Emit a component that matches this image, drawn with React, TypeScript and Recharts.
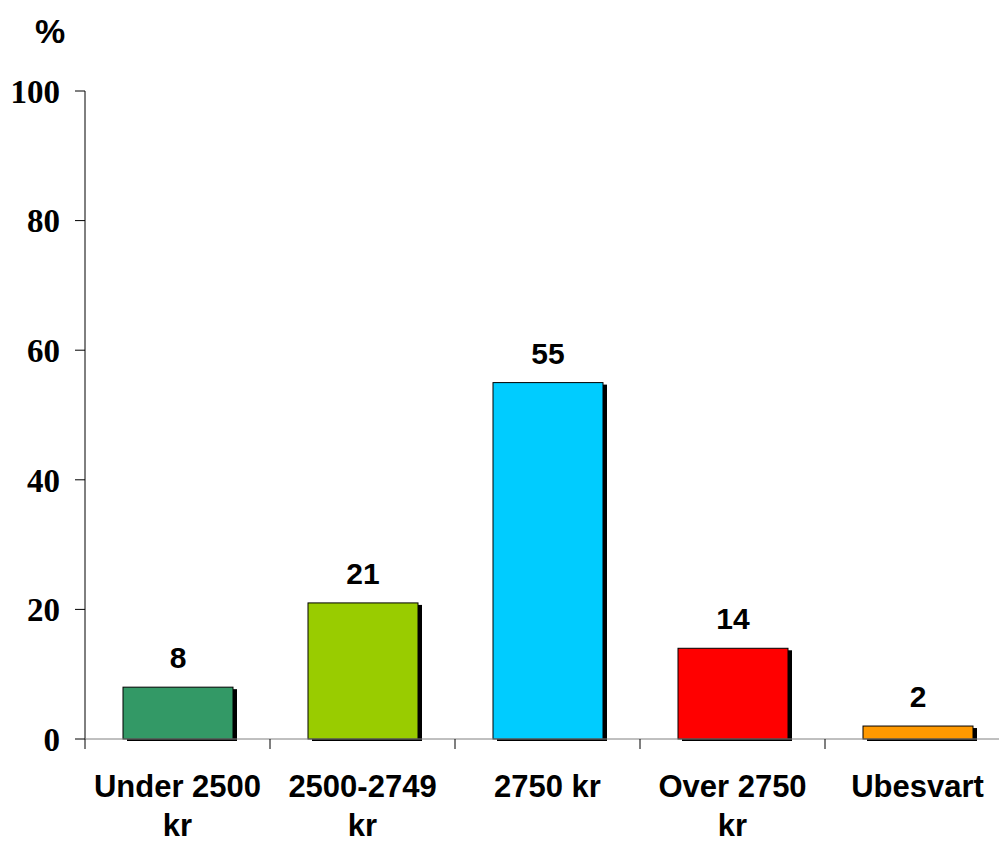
import { BarChart, Bar, XAxis, YAxis, Cell, LabelList } from "recharts";

const categories = ["Under 2500 kr", "2500-2749 kr", "2750 kr", "Over 2750 kr", "Ubesvart"];
const labelLines = [["Under 2500", "kr"], ["2500-2749", "kr"], ["2750 kr"], ["Over 2750", "kr"], ["Ubesvart"]];
const values = [8, 21, 55, 14, 2];
const colors = ["#339966", "#99CC00", "#00CCFF", "#FF0000", "#FF9900"];
const yTicks = [0, 20, 40, 60, 80, 100];

const data = categories.map((name, i) => ({ name, value: values[i] }));

const SANS = "'Liberation Sans', Arial, sans-serif";
const SERIF = "'Liberation Serif', 'Times New Roman', serif";

// bar with a black drop shadow, like the old Excel charts
function ShadowBar(props: any) {
  const { x, y, width, height, fill } = props;
  if (!height) return null;
  return (
    <g>
      <rect x={x + 4} y={y + 2} width={width} height={height} fill="#000" />
      <rect x={x} y={y} width={width} height={height} fill={fill} stroke="#000" strokeWidth={1} />
    </g>
  );
}

function CategoryTick(props: any) {
  const { x, y, payload, index } = props;
  const half = payload?.offset ?? 0;
  const lines = labelLines[index] ?? [payload.value];
  return (
    <g>
      <line x1={x - half} y1={y - 8} x2={x - half} y2={y + 2} stroke="#000" strokeWidth={1} />
      {index === categories.length - 1 && (
        <line x1={x + half} y1={y - 8} x2={x + half} y2={y + 2} stroke="#000" strokeWidth={1} />
      )}
      <text x={x} y={y} textAnchor="middle" fontFamily={SANS} fontWeight="bold" fontSize={31} fill="#000">
        {lines.map((l: string, i: number) => (
          <tspan key={i} x={x} dy={i === 0 ? 50 : 39}>
            {l}
          </tspan>
        ))}
      </text>
    </g>
  );
}

function ValueLabel(props: any) {
  const { x, y, width, value } = props;
  return (
    <text x={x + width / 2} y={y - 19} textAnchor="middle" fontFamily={SANS} fontWeight="bold" fontSize={30} fill="#000">
      {value}
    </text>
  );
}

export default function App() {
  return (
    <div style={{ position: "absolute", left: 0, top: 0, width: 999, height: 841, background: "#fff", overflow: "hidden" }}>
      <div
        style={{
          position: "absolute",
          left: 50,
          top: 11,
          transform: "translateX(-50%)",
          fontFamily: SANS,
          fontWeight: "bold",
          fontSize: 34,
          lineHeight: "40px",
        }}
      >
        %
      </div>
      <BarChart width={999} height={841} data={data} margin={{ top: 91, right: -11, bottom: 0, left: 0 }} barSize={110}>
        <YAxis
          domain={[0, 100]}
          ticks={yTicks}
          width={85}
          tickSize={10}
          tickMargin={15}
          axisLine={{ stroke: "#000" }}
          tickLine={{ stroke: "#000" }}
          tick={{ fill: "#000", fontFamily: SERIF, fontWeight: "bold", fontSize: 33 }}
        />
        <XAxis
          dataKey="name"
          height={102}
          interval={0}
          axisLine={{ stroke: "#808080" }}
          tickLine={false}
          tickSize={8}
          tickMargin={0}
          tick={<CategoryTick />}
        />
        <Bar dataKey="value" shape={<ShadowBar />} isAnimationActive={false}>
          {data.map((d, i) => (
            <Cell key={d.name} fill={colors[i]} />
          ))}
          <LabelList dataKey="value" content={<ValueLabel />} />
        </Bar>
      </BarChart>
    </div>
  );
}
